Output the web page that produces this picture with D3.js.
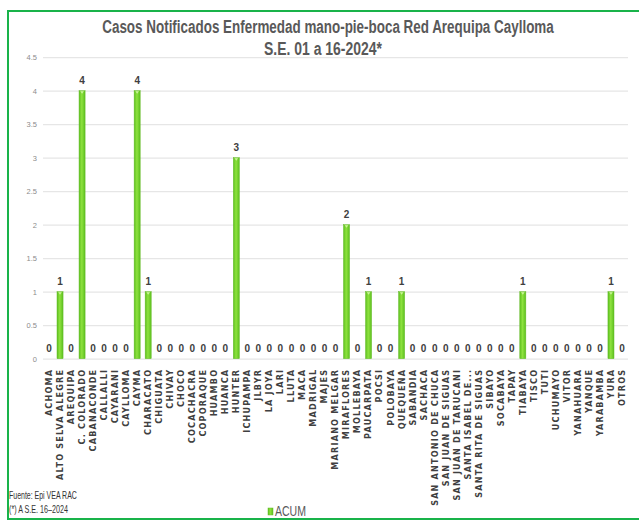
<!DOCTYPE html>
<html>
<head>
<meta charset="utf-8">
<script src="https://cdn.jsdelivr.net/npm/d3@7"></script>
<style>
  html, body { margin: 0; padding: 0; background: #ffffff; }
  svg { display: block; }
</style>
</head>
<body>
<div id="chart"></div>
<script>
// Districts of the Arequipa Caylloma health network
const categories = [
  "ACHOMA", "ALTO SELVA ALEGRE", "AREQUIPA", "C. COLORADO", "CABANACONDE",
  "CALLALLI", "CAYARANI", "CAYLLOMA", "CAYMA", "CHARACATO", "CHIGUATA",
  "CHIVAY", "CHOCO", "COCACHACRA", "COPORAQUE", "HUAMBO", "HUANCA", "HUNTER",
  "ICHUPAMPA", "JLBYR", "LA JOYA", "LARI", "LLUTA", "MACA", "MADRIGAL",
  "MAJES", "MARIANO MELGAR", "MIRAFLORES", "MOLLEBAYA", "PAUCARPATA", "POCSI",
  "POLOBAYA", "QUEQUEÑA", "SABANDIA", "SACHACA", "SAN ANTONIO DE CHUCA",
  "SAN JUAN DE SIGUAS", "SAN JUAN DE TARUCANI", "SANTA ISABEL DE...",
  "SANTA RITA DE SIGUAS", "SIBAYO", "SOCABAYA", "TAPAY", "TIABAYA", "TISCO",
  "TUTI", "UCHUMAYO", "VITOR", "YANAHUARA", "YANQUE", "YARABAMBA", "YURA",
  "OTROS"
];

// Accumulated cases per district (ACUM)
const acum = [
  0, 1, 0, 4, 0,
  0, 0, 0, 4, 1, 0,
  0, 0, 0, 0, 0, 0, 3,
  0, 0, 0, 0, 0, 0, 0,
  0, 0, 2, 0, 1, 0,
  0, 1, 0, 0, 0,
  0, 0, 0,
  0, 0, 0, 0, 1, 0,
  0, 0, 0, 0, 0, 0, 1,
  0
];

const yTicks = [0, 0.5, 1, 1.5, 2, 2.5, 3, 3.5, 4, 4.5];
const seriesName = "ACUM";
const titleLines = ["Casos  Notificados Enfermedad mano-pie-boca Red Arequipa Caylloma", "S.E. 01 a 16-2024*"];
const footnotes = ["Fuente: Epi VEA RAC", "(*) A S.E. 16\u20132024"];

const W = 639, H = 521;
const sans = "'Liberation Sans', Arial, sans-serif";

const svg = d3.select("#chart").append("svg")
  .attr("width", W).attr("height", H);

// squeeze a text horizontally to a target width (narrow-face look)
function condense(sel, width, anchorX, baseY, anchor) {
  sel.each(function () {
    const t = d3.select(this);
    const natural = this.getComputedTextLength();
    const k = Math.min(1, width / natural);
    t.attr("x", 0).attr("y", 0).attr("text-anchor", anchor)
      .attr("transform", `translate(${anchorX},${baseY}) scale(${k},1)`);
  });
}

const defs = svg.append("defs");
const grad = defs.append("linearGradient").attr("id", "barFill")
  .attr("x1", "0%").attr("x2", "100%").attr("y1", "0%").attr("y2", "0%");
grad.append("stop").attr("offset", "0%").attr("stop-color", "#5cbf1e");
grad.append("stop").attr("offset", "45%").attr("stop-color", "#8ee23f");
grad.append("stop").attr("offset", "100%").attr("stop-color", "#5cbf1e");

// outer frame
svg.append("rect")
  .attr("x", 8).attr("y", 11).attr("width", 632).attr("height", 508)
  .attr("fill", "none").attr("stroke", "#19b34a").attr("stroke-width", 2);

const x = d3.scaleBand()
  .domain(categories)
  .range([43.5, 627.5])
  .paddingInner(0.45)
  .paddingOuter(0.225);

const y = d3.scaleLinear().domain([0, 4.5]).range([358.7, 57.2]);

// y axis with gridlines
const yAxis = svg.append("g")
  .attr("transform", "translate(43,0)")
  .call(d3.axisLeft(y).tickValues(yTicks).tickFormat(d => String(d))
    .tickSizeInner(-585).tickSizeOuter(0).tickPadding(6));
yAxis.select(".domain").remove();
yAxis.selectAll(".tick line").attr("stroke", "#e6e6e6").attr("stroke-width", 1.2);
yAxis.selectAll(".tick text")
  .attr("fill", "#8c8c8c").style("font-family", sans).style("font-size", "7.5px");

// x axis labels
const xAxis = svg.append("g")
  .attr("transform", `translate(0,${y(0)})`)
  .call(d3.axisBottom(x).tickSize(0).tickPadding(0));
xAxis.select(".domain").remove();
xAxis.selectAll(".tick text")
  .attr("transform", "rotate(-90)")
  .attr("text-anchor", "end")
  .attr("x", -10).attr("y", 0).attr("dy", "0.36em")
  .attr("fill", "#404040")
  .style("font-family", "'DejaVu Sans', Verdana, sans-serif")
  .style("font-weight", "bold")
  .style("font-size", "8.1px")
  .style("letter-spacing", "1.2px");

// bars
const data = categories.map((c, i) => ({ c, v: acum[i] }));
svg.append("g").selectAll("rect").data(data.filter(d => d.v > 0)).join("rect")
  .attr("x", d => x(d.c)).attr("width", x.bandwidth())
  .attr("y", d => y(d.v)).attr("height", d => y(0) - y(d.v))
  .attr("fill", "url(#barFill)").attr("stroke", "#66bb2a").attr("stroke-width", 0.5);

// small highlight at the top of each bar
svg.append("g").selectAll("path").data(data.filter(d => d.v > 0)).join("path")
  .attr("d", d => {
    const cx = x(d.c) + x.bandwidth() / 2, ty = y(d.v);
    return `M${cx - 1.8},${ty + 0.5} L${cx + 1.8},${ty + 0.5} L${cx},${ty + 3}Z`;
  })
  .attr("fill", "#c9f39a");

// value labels
svg.append("g").selectAll("text").data(data).join("text")
  .attr("x", d => x(d.c) + x.bandwidth() / 2)
  .attr("y", d => y(d.v) - 7)
  .attr("text-anchor", "middle")
  .attr("fill", "#404040")
  .style("font-family", sans)
  .style("font-weight", "bold")
  .style("font-size", "10px")
  .text(d => d.v);

// title
const titleWidths = [452, 118];
const titleCenters = [328, 323];
const titleG = svg.append("g");
titleLines.forEach((line, i) => {
  titleG.append("text")
    .attr("fill", "#595959")
    .style("font-family", sans)
    .style("font-weight", "bold")
    .style("font-size", "19px")
    .text(line)
    .call(condense, titleWidths[i], titleCenters[i], 33 + i * 22, "middle");
});

// footnotes
const footWidths = [68, 59];
const footG = svg.append("g");
footnotes.forEach((line, i) => {
  footG.append("text")
    .attr("fill", "#333333")
    .style("font-family", sans)
    .style("font-size", "10px")
    .text(line)
    .call(condense, footWidths[i], 9, 499 + i * 14, "start");
});

// legend
const lg = svg.append("g").attr("transform", "translate(268,508)");
lg.append("rect").attr("x", 0).attr("y", 0).attr("width", 5).attr("height", 7)
  .attr("fill", "url(#barFill)").attr("stroke", "#66bb2a").attr("stroke-width", 0.5);
lg.append("text")
  .attr("fill", "#595959")
  .style("font-family", sans)
  .style("font-size", "14px")
  .text(seriesName)
  .call(condense, 31, 7, 8, "start");
</script>
</body>
</html>
